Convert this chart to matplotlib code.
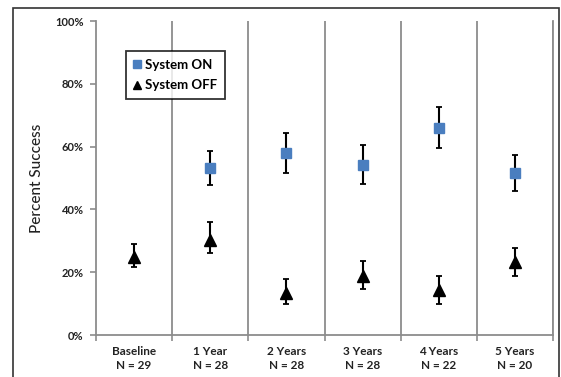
import matplotlib
matplotlib.use("Agg")
import matplotlib.pyplot as plt
from matplotlib.lines import Line2D
from matplotlib.patches import Rectangle
import numpy as np

plt.rcParams["font.family"] = ["Lato", "DejaVu Sans"]

# --- data ---
categories = ["Baseline\nN = 29", "1 Year\nN = 28", "2 Years\nN = 28",
              "3 Years\nN = 28", "4 Years\nN = 22", "5 Years\nN = 20"]

# System ON has no baseline value
on_idx = [1, 2, 3, 4, 5]
on_mean = [53.2, 58.0, 54.1, 66.0, 51.6]
on_low = [47.8, 51.6, 48.0, 59.5, 46.0]
on_high = [58.6, 64.3, 60.5, 72.6, 57.3]

off_idx = [0, 1, 2, 3, 4, 5]
off_mean = [24.8, 30.3, 13.4, 18.8, 14.3, 23.2]
off_low = [21.7, 26.1, 9.9, 14.6, 9.9, 18.8]
off_high = [29.0, 36.0, 17.8, 23.6, 18.8, 27.7]

y_ticks = [0, 20, 40, 60, 80, 100]

blue = "#4a7ebf"
grey = "#8c8c8c"

fig = plt.figure(figsize=(5.61, 3.77), dpi=100)
W, H = 561, 377

# outer chart frame (runs off the bottom of the crop)
fig.patches.append(Rectangle((13 / W, -0.05), (559 - 13) / W, 1.05 - 8 / H,
                             transform=fig.transFigure, fill=False,
                             edgecolor="#333333", linewidth=1.2))

ax = fig.add_axes([96 / W, 1 - 335 / H, (553 - 96) / W, (335 - 21) / H])

x_on = np.array(on_idx) + 0.5
x_off = np.array(off_idx) + 0.5
on_mean_a = np.array(on_mean)
off_mean_a = np.array(off_mean)

ax.errorbar(x_on, on_mean_a,
            yerr=[on_mean_a - np.array(on_low), np.array(on_high) - on_mean_a],
            fmt="s", color=blue, ms=7.5, ecolor="black", elinewidth=1.5,
            capsize=2, capthick=1.3, zorder=3)
ax.errorbar(x_off, off_mean_a,
            yerr=[off_mean_a - np.array(off_low), np.array(off_high) - off_mean_a],
            fmt="^", color="black", ms=8, ecolor="black", elinewidth=1.5,
            capsize=2, capthick=1.3, zorder=3)

# category separators
for b in range(1, len(categories) + 1):
    ax.axvline(b, color=grey, linewidth=1.3, zorder=1)

ax.set_xlim(0, len(categories))
ax.set_ylim(0, 100)

ax.set_xticks(np.arange(len(categories)) + 0.5)
ax.set_xticklabels(categories, fontsize=8.5, fontweight="bold", linespacing=1.3)
ax.set_xticks(np.arange(len(categories) + 1), minor=True)
ax.tick_params(axis="x", which="major", length=0, pad=8, colors="#222222")
ax.tick_params(axis="x", which="minor", length=4, color=grey, width=1.2)

ax.set_yticks(y_ticks)
ax.set_yticklabels([f"{v}%" for v in y_ticks], fontsize=8, fontweight="bold")
ax.tick_params(axis="y", length=4, color=grey, width=1.2, pad=5, labelcolor="#222222")

for side in ("left", "bottom", "right"):
    ax.spines[side].set_color(grey)
    ax.spines[side].set_linewidth(1.3)
ax.spines["top"].set_visible(False)

ax.set_ylabel("Percent Success", fontsize=11, fontweight="medium",
              labelpad=8, color="#222222")

handles = [Line2D([], [], ls="none", marker="s", color=blue, ms=5.5),
           Line2D([], [], ls="none", marker="^", color="black", ms=6)]
leg = ax.legend(handles, ["System ON", "System OFF"], loc="upper left",
                bbox_to_anchor=((126 - 96) / 457, (335 - 51) / 314),
                borderaxespad=0, frameon=True, fancybox=False,
                handlelength=0.5, handletextpad=0.35, borderpad=0.6,
                labelspacing=0.65, prop={"weight": "bold", "size": 9.5})
leg.get_frame().set_edgecolor("black")
leg.get_frame().set_linewidth(1.3)

fig.savefig("out.png", dpi=100)
